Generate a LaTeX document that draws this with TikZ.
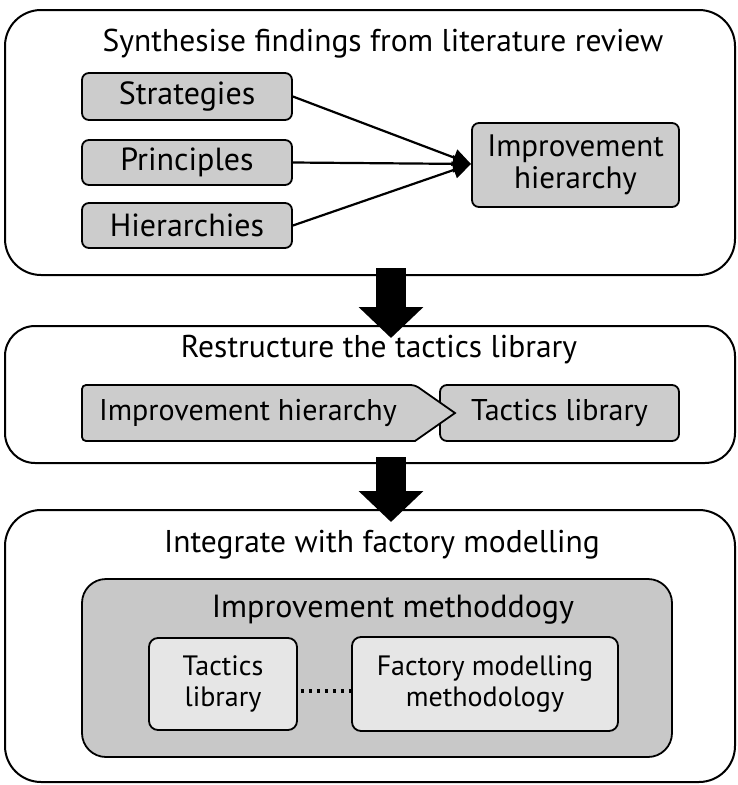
\documentclass[tikz,border=0pt]{standalone}
\usepackage{fontspec}
\setmainfont{PT Sans}
\usetikzlibrary{arrows.meta}
\definecolor{boxgray}{HTML}{CCCCCC}
\definecolor{methgray}{HTML}{C8C8C8}
\definecolor{innergray}{HTML}{E6E6E6}
\begin{document}
\begin{tikzpicture}[x=1pt,y=-1pt,
  stage/.style={draw, line width=2pt, rounded corners=36pt, fill=white, inner sep=0pt},
  gbox/.style={draw, line width=1.8pt, rounded corners=7pt, fill=boxgray, inner sep=0pt, font=\fontsize{32}{34}\selectfont},
  ibox/.style={draw, line width=1.8pt, rounded corners=9pt, fill=innergray, inner sep=0pt, align=center, font=\fontsize{28}{31}\selectfont},
  title/.style={font=\fontsize{31.5}{34}\selectfont, inner sep=0pt},
  conn/.style={line width=2.2pt, -{Triangle[length=18pt,width=17pt]}},
  bigarrow/.style={line width=30pt, -{Triangle[length=31pt,width=63pt]}},
  dotline/.style={line width=3.5pt, dash pattern=on 3.5pt off 4.5pt},
]
\useasboundingbox (0,0) rectangle (737,785);
% stage boxes
\node[stage, minimum width=730pt, minimum height=265pt] (s1) at (370,142.5) {};
\node[stage, minimum width=730pt, minimum height=137pt, rounded corners=30pt] (s2) at (370,394.5) {};
\node[stage, minimum width=730pt, minimum height=272pt] (s3) at (370,646) {};
% titles
\node[title] (t1) at (383,44) {Synthesise findings from literature review};
\node[title] (t2) at (379,350) {Restructure the tactics library};
\node[title] (t3) at (382,545) {Integrate with factory modelling};
% stage 1
\node[gbox, minimum width=210pt, minimum height=47pt] (str) at (187,96.5) {Strategies};
\node[gbox, minimum width=210pt, minimum height=45pt] (pri) at (187,162.5) {Principles};
\node[gbox, minimum width=210pt, minimum height=45pt] (hie) at (187,225.5) {Hierarchies};
\node[gbox, minimum width=207pt, minimum height=84pt, align=center, font=\fontsize{31}{32}\selectfont] (imp) at (575.5,165) {Improvement\\hierarchy};
\coordinate (tip) at (471,164);
\draw[conn] (str.east) -- (tip);
\draw[conn] (pri.east) -- (tip);
\draw[conn] (hie.east) -- (tip);
% stage 2
\node[gbox, minimum width=239pt, minimum height=56pt, font=\fontsize{30}{32}\selectfont] (tac) at (559.5,413) {Tactics library};
\draw[line width=1.8pt, fill=boxgray, rounded corners=4pt] (82,385) -- (415,385) [sharp corners] -- (455,413) -- (415,441) [rounded corners=4pt] -- (82,441) -- cycle;
\node[font=\fontsize{30}{32}\selectfont, inner sep=0pt] (ih) at (248,413) {Improvement hierarchy};
% stage 3
\node[draw, line width=1.8pt, rounded corners=24pt, fill=methgray, minimum width=590pt, minimum height=178pt] (meth) at (377,668) {};
\node[title, font=\fontsize{32}{34}\selectfont] (mt) at (393,610) {Improvement methoddogy};
\node[ibox, minimum width=148pt, minimum height=92pt] (tl) at (223,684) {Tactics\\library};
\node[ibox, minimum width=266pt, minimum height=94pt] (fm) at (485,684) {Factory modelling\\methodology};
\draw[dotline] ([yshift=-7pt,xshift=3pt]tl.east) -- ([yshift=-7pt]fm.west);
% big arrows
\coordinate (a1s) at (391,268);
\coordinate (a1e) at (391,338);
\coordinate (a2s) at (391,457);
\coordinate (a2e) at (391,522);
\draw[bigarrow] (a1s) -- (a1e);
\draw[bigarrow] (a2s) -- (a2e);
\end{tikzpicture}
\end{document}
